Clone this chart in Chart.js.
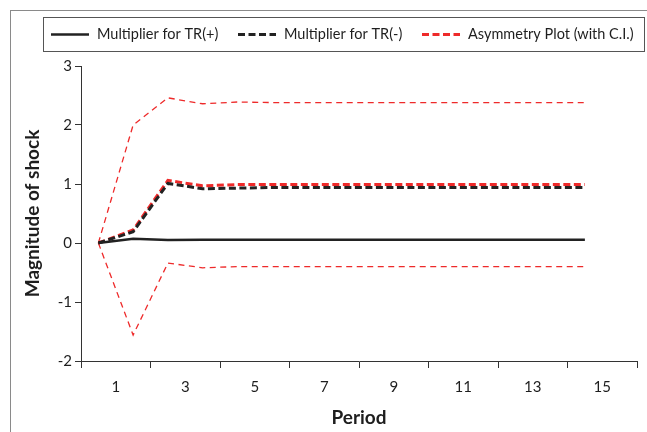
<!DOCTYPE html>
<html>
<head>
<meta charset="utf-8">
<script src="https://cdn.jsdelivr.net/npm/chart.js@4.4.1/dist/chart.umd.min.js"></script>
<style>
  body { margin: 0; background: #fff; }
  #wrap { width: 647px; height: 432px; }
</style>
</head>
<body>
<div id="wrap"><canvas id="shockChart" width="647" height="432"></canvas></div>
<script>
// Periods and series
const periods = [1, 2, 3, 4, 5, 6, 7, 8, 9, 10, 11, 12, 13, 14, 15];
const trPlus = [0, 0.07, 0.05, 0.055, 0.056, 0.056, 0.056, 0.056, 0.056, 0.056, 0.056, 0.056, 0.056, 0.056, 0.056];
const trMinus = [0, 0.19, 1.01, 0.92, 0.93, 0.94, 0.94, 0.94, 0.94, 0.94, 0.94, 0.94, 0.94, 0.94, 0.94];
const asymmetry = [0, 0.22, 1.06, 0.97, 0.99, 0.99, 0.99, 0.99, 0.99, 0.99, 0.99, 0.99, 0.99, 0.99, 0.99];
const upperCI = [0, 2.0, 2.46, 2.36, 2.39, 2.38, 2.38, 2.38, 2.38, 2.38, 2.38, 2.38, 2.38, 2.38, 2.38];
const lowerCI = [0, -1.56, -0.34, -0.42, -0.40, -0.40, -0.40, -0.40, -0.40, -0.40, -0.40, -0.40, -0.40, -0.40, -0.40];

// Axis ticks
const yTicks = [-2, -1, 0, 1, 2, 3];
const xTickLabels = ['1', '3', '5', '7', '9', '11', '13', '15'];

const legendLabels = ['Multiplier for TR(+)', 'Multiplier for TR(-)', 'Asymmetry Plot (with C.I.)'];

const RED = '#ee2a2a';
const BLACK = '#222222';
const FONT = 'Lato, "Open Sans", sans-serif';

function toPoints(values) {
    return values.map((v, i) => ({ x: periods[i], y: v }));
}

// Excel style frame and legend box
const framePlugin = {
    id: 'frameAndLegend',
    afterDraw(chart) {
        const ctx = chart.ctx;
        ctx.save();
        // outer frame (only left/top fall inside the picture)
        ctx.strokeStyle = '#8a8a8a';
        ctx.lineWidth = 1;
        ctx.strokeRect(10.5, 10.5, 700, 500);

        // legend box
        ctx.strokeStyle = '#555';
        ctx.strokeRect(43.5, 17.5, 601, 34);

        const lineStarts = [51, 238, 422];
        const y = 34.5;
        ctx.font = '14.5px ' + FONT;
        ctx.textBaseline = 'middle';
        ctx.fillStyle = '#1e1e1e';
        for (let i = 0; i < 3; i++) {
            const ds = chart.data.datasets[i];
            ctx.beginPath();
            ctx.strokeStyle = ds.borderColor;
            ctx.lineWidth = ds.borderWidth;
            ctx.setLineDash(ds.borderDash || []);
            ctx.moveTo(lineStarts[i], y);
            ctx.lineTo(lineStarts[i] + 38, y);
            ctx.stroke();
            ctx.setLineDash([]);
            ctx.fillText(legendLabels[i], lineStarts[i] + 46, y);
        }
        ctx.restore();
    }
};

Chart.defaults.font.family = FONT;
Chart.defaults.color = '#1e1e1e';

new Chart(document.getElementById('shockChart').getContext('2d'), {
    type: 'line',
    data: {
        datasets: [
            {
                label: legendLabels[0],
                data: toPoints(trPlus),
                borderColor: BLACK,
                borderWidth: 2.5,
            },
            {
                label: legendLabels[1],
                data: toPoints(trMinus),
                borderColor: BLACK,
                borderWidth: 3,
                borderDash: [7, 3.5],
            },
            {
                label: legendLabels[2],
                data: toPoints(asymmetry),
                borderColor: RED,
                borderWidth: 3,
                borderDash: [7, 3.5],
            },
            {
                label: 'Upper C.I.',
                data: toPoints(upperCI),
                borderColor: RED,
                borderWidth: 1.3,
                borderDash: [6, 4.5],
            },
            {
                label: 'Lower C.I.',
                data: toPoints(lowerCI),
                borderColor: RED,
                borderWidth: 1.3,
                borderDash: [6, 4.5],
            }
        ]
    },
    options: {
        responsive: false,
        animation: false,
        layout: { padding: { top: 66, right: 10, left: 0, bottom: 0 } },
        elements: {
            point: { radius: 0 },
            line: { tension: 0, fill: false }
        },
        plugins: {
            legend: { display: false },
            tooltip: { enabled: false }
        },
        scales: {
            x: {
                type: 'linear',
                min: 0.5,
                max: 16.5,
                afterBuildTicks: scale => {
                    const t = [];
                    for (let v = 0.5; v <= 16.5; v += 0.5) t.push({ value: v });
                    scale.ticks = t;
                },
                afterFit: scale => { scale.height = 71; },
                grid: {
                    drawOnChartArea: false,
                    tickLength: 7,
                    tickColor: c => (Math.abs((c.tick.value - 0.5) % 2) < 1e-6 ? '#333' : 'rgba(0,0,0,0)'),
                },
                border: { display: true, color: '#333', width: 1 },
                ticks: {
                    autoSkip: false,
                    maxRotation: 0,
                    padding: 10,
                    labelOffset: 17.4,
                    font: { size: 15 },
                    callback: v => (Number.isInteger(v) && v % 2 === 1 ? (xTickLabels[(v - 1) / 2] ?? '') : '')
                },
                title: {
                    display: true,
                    text: 'Period',
                    font: { size: 19, weight: 'bold' },
                    padding: { top: 0, bottom: 3 }
                }
            },
            y: {
                min: -2,
                max: 3,
                afterBuildTicks: scale => { scale.ticks = yTicks.map(v => ({ value: v })); },
                afterFit: scale => { scale.width = 81; },
                grid: {
                    drawOnChartArea: false,
                    tickLength: 6,
                    tickColor: '#333'
                },
                border: { display: true, color: '#333', width: 1 },
                ticks: {
                    padding: 3,
                    font: { size: 15 }
                },
                title: {
                    display: true,
                    text: 'Magnitude of shock',
                    font: { size: 19, weight: 'bold' },
                    padding: { top: 21, bottom: 0 }
                }
            }
        }
    },
    plugins: [framePlugin]
});
</script>
</body>
</html>
